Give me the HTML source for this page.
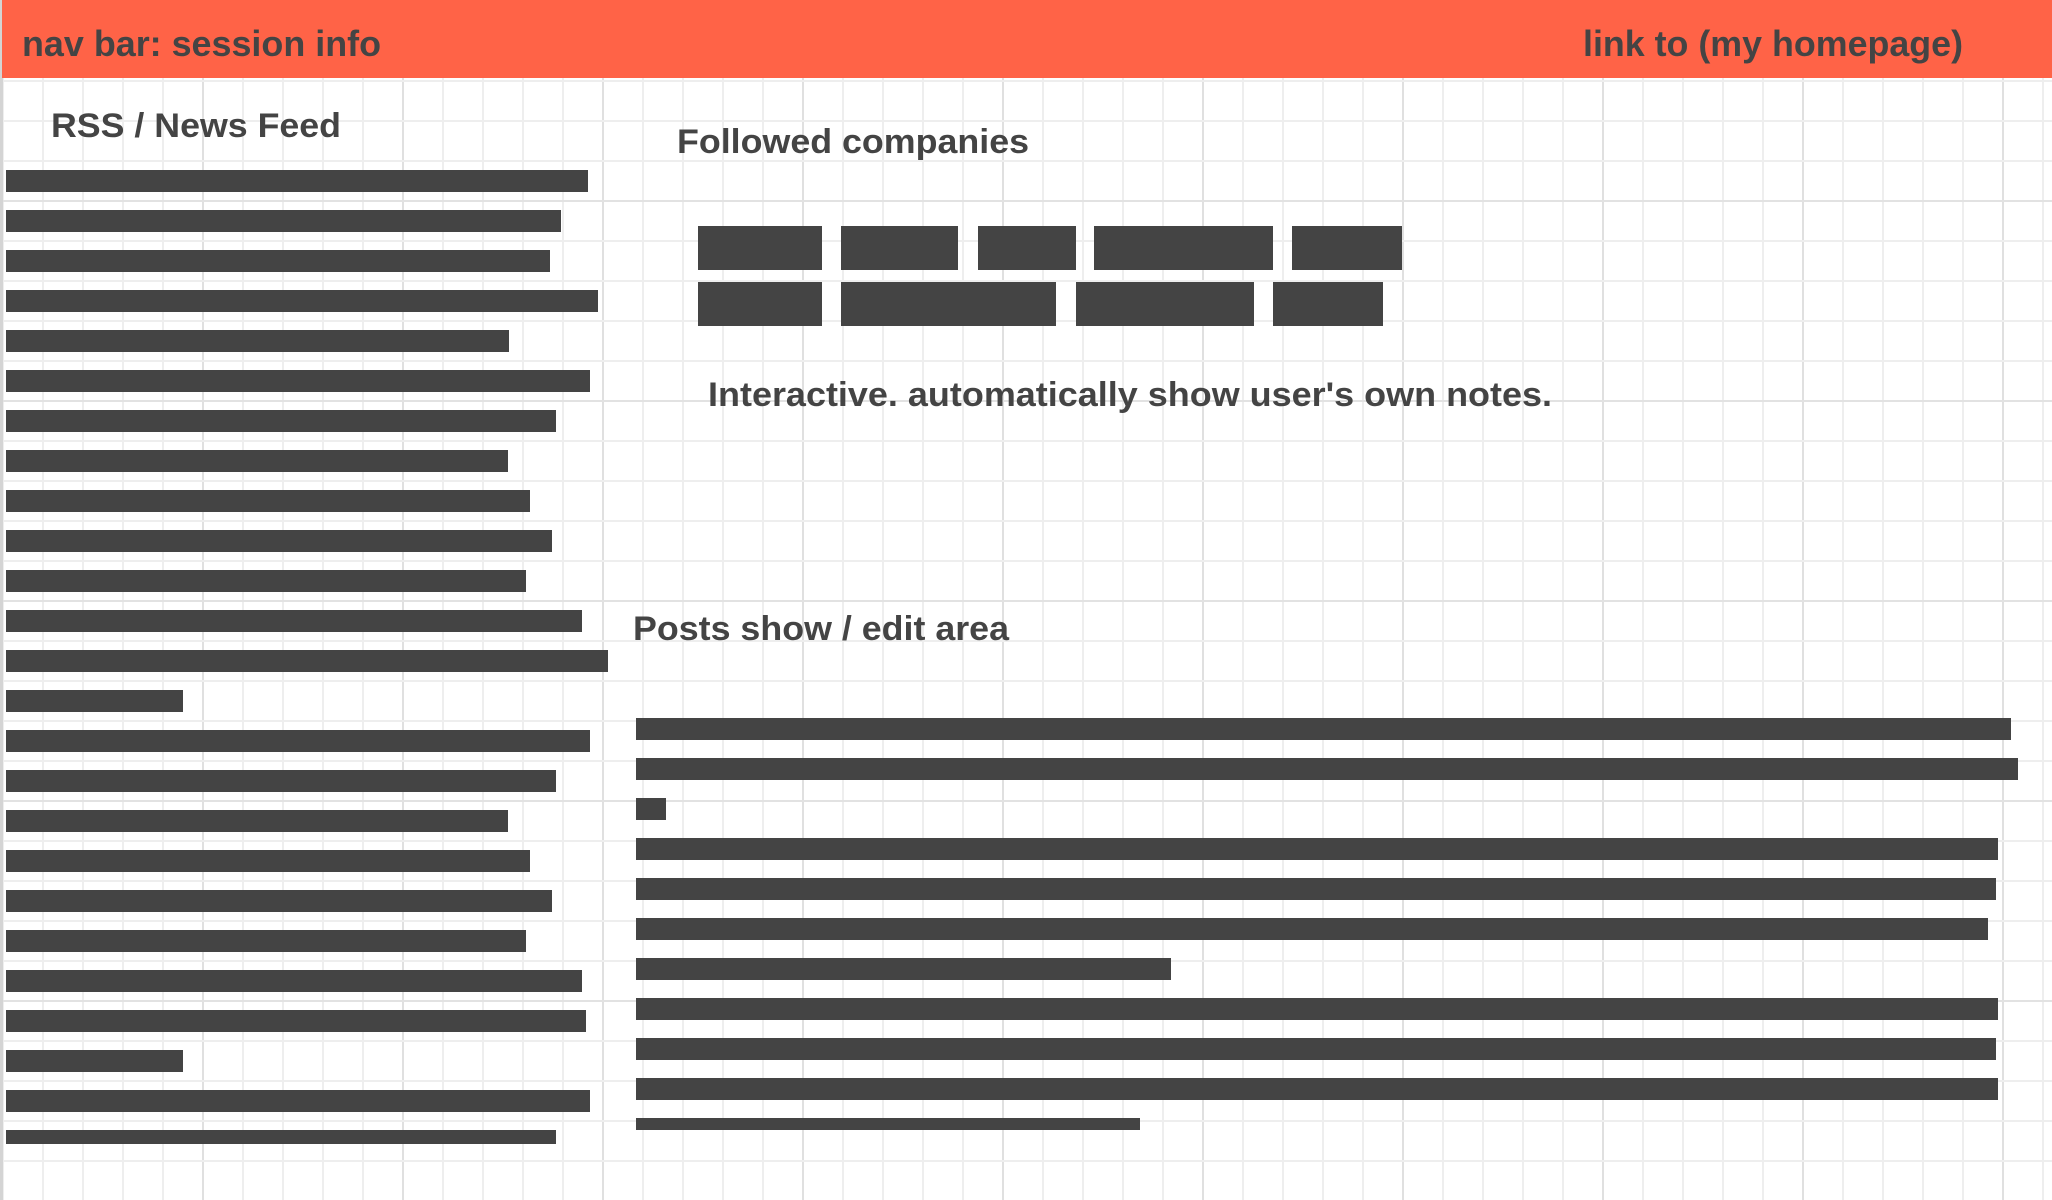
<!DOCTYPE html>
<html><head><meta charset="utf-8"><style>
html,body{margin:0;padding:0;background:#fff;width:2052px;height:1200px;overflow:hidden}
svg text{font-family:"Liberation Sans",Arial,sans-serif;font-weight:bold;fill:#444}
</style></head><body>
<svg id="page" width="2052" height="1200" viewBox="0 0 2052 1200" xmlns="http://www.w3.org/2000/svg">
<g id="grid"></g>
<rect x="0" y="0" width="3" height="1200" fill="#d4d4d4"/>
<rect x="2" y="0" width="2050" height="78" fill="#ff6347"/>
<text x="22" y="56" font-size="36" textLength="359" lengthAdjust="spacingAndGlyphs">nav bar: session info</text>
<text x="1583" y="56" font-size="36" textLength="380" lengthAdjust="spacingAndGlyphs">link to (my homepage)</text>
<text x="51" y="137" font-size="34" textLength="290" lengthAdjust="spacingAndGlyphs">RSS / News Feed</text>
<text x="677" y="153" font-size="34" textLength="352" lengthAdjust="spacingAndGlyphs">Followed companies</text>
<text x="708" y="406" font-size="34" textLength="844" lengthAdjust="spacingAndGlyphs">Interactive. automatically show user's own notes.</text>
<text x="633" y="640" font-size="34" textLength="376" lengthAdjust="spacingAndGlyphs">Posts show / edit area</text>
<g id="feed"></g>
<g id="companies"></g>
<g id="posts"></g>
</svg>
<script>
// Feed line right-end positions (line lengths)
const feedEnds = [588,561,550,598,509,590,556,508,530,552,526,582,608,183,590,556,508,530,552,526,582,586,183,590,556];
// Post line right-end positions
const postEnds = [2011,2018,666,1998,1996,1988,1171,1998,1996,1998,1140];
// Company tag spans [start,end], row 1 and row 2
const companyRow1 = [[698,822],[841,958],[978,1076],[1094,1273],[1292,1402]];
const companyRow2 = [[698,822],[841,1056],[1076,1254],[1273,1383]];

const NS = 'http://www.w3.org/2000/svg';
function rect(parent, x, y, w, h, fill) {
  const r = document.createElementNS(NS, 'rect');
  r.setAttribute('x', x); r.setAttribute('y', y);
  r.setAttribute('width', w); r.setAttribute('height', h);
  r.setAttribute('fill', fill);
  parent.appendChild(r);
  return r;
}
// grid
const grid = document.getElementById('grid');
for (let x = 3; x < 2052; x += 40) {
  const major = (x - 3) % 200 === 0 && x !== 3;
  const l = rect(grid, x - 1, 78, 2, 1122, major ? '#e0e0e0' : '#eeeeee');
  
  
}
for (let y = 81; y < 1200; y += 40) {
  const major = (y - 1) % 200 === 0;
  const l = rect(grid, 0, y - 1, 2052, 2, major ? '#e2e2e2' : '#eeeeee');
  
  
}
// feed lines
const feed = document.getElementById('feed');
feedEnds.forEach((end, i) => {
  const last = i === feedEnds.length - 1;
  const r = rect(feed, 6, 170 + 40 * i, end - 6, last ? 14 : 22, '#444');
  
  
});
// companies
const comp = document.getElementById('companies');
companyRow1.forEach(s => {
  const r = rect(comp, s[0], 226, s[1] - s[0], 44, '#444');
  
  
});
companyRow2.forEach(s => {
  const r = rect(comp, s[0], 282, s[1] - s[0], 44, '#444');
  
  
});
// posts
const posts = document.getElementById('posts');
postEnds.forEach((end, i) => {
  const last = i === postEnds.length - 1;
  const r = rect(posts, 636, 718 + 40 * i, end - 636, last ? 12 : 22, '#444');
  
  
});
</script>
</body></html>
